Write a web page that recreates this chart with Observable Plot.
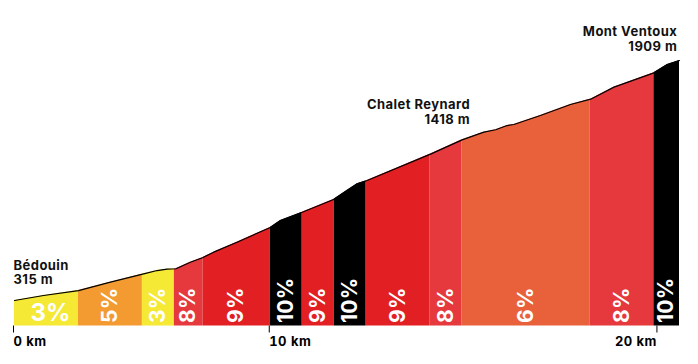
<!DOCTYPE html>
<html>
<head>
<meta charset="utf-8">
<script src="https://cdn.jsdelivr.net/npm/d3@7"></script>
<script src="https://cdn.jsdelivr.net/npm/@observablehq/plot@0.6"></script>
<style>
  html, body { margin: 0; padding: 0; background: #fff; }
  #chart svg { display: block; }
  #chart g[font-size="13"] text { letter-spacing: 0.45px; }
  #chart g[font-size="21"] text { letter-spacing: 0.3px; }
</style>
</head>
<body>
<div id="chart"></div>
<script>
// Climb segments (distance units along the axis) and their average grade (%)
const segStart = [0, 2, 4, 5, 5.9, 8, 9, 10, 11, 13, 14, 18, 20];
const segEnd   = [2, 4, 5, 5.9, 8, 9, 10, 11, 13, 14, 18, 20, 20.8];
const segGrade = [3, 5, 3, 8, 9, 10, 9, 10, 9, 8, 6, 8, 10];

// Elevation profile (distance, metres)
const profileKm   = [0, 0.91, 2.0, 3.0, 4.04, 4.46, 4.77, 5.05, 5.5, 5.88, 6.23, 6.96, 8.0, 8.32, 9.0, 9.98, 10.4, 10.72, 11.03, 13.03, 14.0, 14.68, 15.05, 15.41, 15.62, 16.45, 17.39, 18.02, 18.75, 20.0, 20.42, 20.8];
const profileElev = [315, 348, 381, 437, 492, 514, 523, 526, 569, 599, 636, 702, 800, 846, 901, 986, 1046, 1090, 1112, 1289, 1382, 1433, 1449, 1477, 1484, 1544, 1617, 1652, 1732, 1827, 1882, 1909];

// Named places
const placeName = ["Bédouin", "Chalet Reynard", "Mont Ventoux"];
const placeKm   = [0, 14.25, 20.73];
const placeElev = [315, 1418, 1909];

// Axis ticks
const xTicks      = [0, 8, 20];
const xTickLabels = ["0 km", "10 km", "20 km"];

// Grade colours
const gradeDomain = [3, 5, 6, 8, 9, 10];
const gradeColors = ["#f5e935", "#f39a31", "#e9613b", "#e5393d", "#e21f23", "#000000"];

const segments = segStart.map((s, i) => ({start: s, end: segEnd[i], grade: segGrade[i]}));
const profile = profileKm.map((k, i) => ({km: k, elev: profileElev[i]}));
const places = placeName.map((n, i) => ({name: n, km: placeKm[i], elev: placeElev[i]}));
const tickLabel = new Map(xTicks.map((t, i) => [t, xTickLabels[i]]));

const yMin = 145.6, yMax = 2174.7;
const summit = d3.max(profileElev);
const font = "Inter, 'Open Sans', sans-serif";

const chart = Plot.plot({
  width: 698,
  height: 364,
  marginLeft: 14,
  marginRight: 19,
  marginTop: 20,
  marginBottom: 38.5,
  style: {fontFamily: font, background: "#fff", color: "#000"},
  x: {domain: [0, 20.8], axis: null},
  y: {domain: [yMin, yMax], axis: null},
  color: {type: "ordinal", domain: gradeDomain, range: gradeColors},
  marks: [
    Plot.rect(segments, {x1: "start", x2: "end", y1: yMin, y2: summit, fill: "grade"}),
    Plot.areaY(profile, {x: "km", y1: "elev", y2: summit + 5, fill: "#fff", curve: "linear"}),
    Plot.line(profile, {x: "km", y: "elev", stroke: "#000", strokeWidth: 1.2}),
    Plot.text(segments.slice(0, 1), {
      x: d => (d.start + d.end) / 2, y: yMin, text: d => d.grade + "%",
      textAnchor: "middle", lineAnchor: "bottom", dx: 4, dy: -5.5,
      fill: "#fff", fontSize: 24, fontWeight: 700
    }),
    Plot.text(segments.slice(1), {
      x: d => (d.start + d.end) / 2, y: yMin, text: d => d.grade + "%",
      rotate: -90, textAnchor: "start", lineAnchor: "middle", dy: -3,
      fill: "#fff", fontSize: 21, fontWeight: 700
    }),
    Plot.text(places.slice(0, 1), {
      x: "km", y: "elev", text: d => d.name + "\n" + d.elev + " m",
      textAnchor: "start", lineAnchor: "bottom", dy: -16, dx: -1,
      lineHeight: 1.15, fontSize: 13, fontWeight: 700, fill: "#111"
    }),
    Plot.text(places.slice(1), {
      x: "km", y: "elev", text: d => d.name + "\n" + d.elev + " m",
      textAnchor: "end", lineAnchor: "bottom", dy: -10,
      lineHeight: 1.15, fontSize: 13, fontWeight: 700, fill: "#111"
    }),
    Plot.axisX(xTicks.slice(0, 2), {
      anchor: "bottom", tickSize: 7, tickPadding: 3.5,
      tickFormat: d => tickLabel.get(d), textAnchor: "start", dx: -1,
      fontSize: 13, fontWeight: 700, label: null
    }),
    Plot.axisX(xTicks.slice(2), {
      anchor: "bottom", tickSize: 7, tickPadding: 3.5,
      tickFormat: d => tickLabel.get(d), textAnchor: "end", dx: 3,
      fontSize: 13, fontWeight: 700, label: null
    })
  ]
});
document.getElementById("chart").appendChild(chart);
</script>
</body>
</html>
